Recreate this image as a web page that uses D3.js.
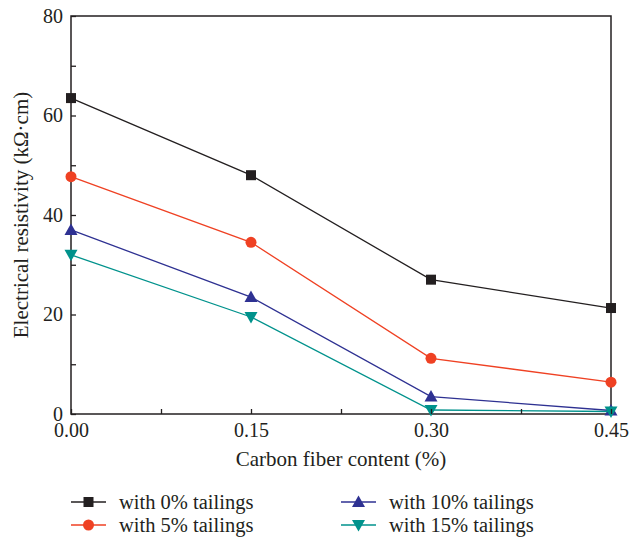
<!DOCTYPE html>
<html>
<head>
<script src="https://d3js.org/d3.v7.min.js"></script>
<style>
body { margin: 0; background: #fff; }
text { font-family: "Liberation Serif", "DejaVu Serif", serif; fill: #231f20; }
</style>
</head>
<body>
<svg class="chart" width="629" height="538"></svg>
<script>
var content = [0, 0.15, 0.30, 0.45]
var xTicks = ["0.00", "0.15", "0.30", "0.45"]
var yTicks = [0, 20, 40, 60, 80]
var tail0 = [63.5, 48, 27, 21.3]
var tail5 = [47.7, 34.5, 11.2, 6.4]
var tail10 = [37, 23.5, 3.5, 0.7]
var tail15 = [32, 19.5, 0.8, 0.5]

var series = [
  {name: "with 0% tailings", values: tail0, color: "#231f20", shape: "square"},
  {name: "with 5% tailings", values: tail5, color: "#ef4123", shape: "circle"},
  {name: "with 10% tailings", values: tail10, color: "#2e3192", shape: "up"},
  {name: "with 15% tailings", values: tail15, color: "#00928c", shape: "down"}
]

var pLeft = 71, pRight = 611, pTop = 16, pBottom = 414
var x = d3.scaleLinear().domain([0, 0.45]).range([pLeft, pRight])
var y = d3.scaleLinear().domain([0, 80]).range([pBottom, pTop])
var svg = d3.select(".chart")

function marker(g, shape, color) {
  if (shape == "square") {
    g.append("rect").attr("x", -5).attr("y", -5).attr("width", 10).attr("height", 10).attr("fill", color)
  } else if (shape == "circle") {
    g.append("circle").attr("r", 5.5).attr("fill", color)
  } else if (shape == "up") {
    g.append("path").attr("d", "M0,-6.5L6.5,5L-6.5,5Z").attr("fill", color)
  } else {
    g.append("path").attr("d", "M0,6.5L6.5,-5L-6.5,-5Z").attr("fill", color)
  }
}

// frame
svg.append("rect").attr("x", pLeft).attr("y", pTop).attr("width", pRight - pLeft).attr("height", pBottom - pTop)
  .attr("fill", "none").attr("stroke", "#231f20").attr("stroke-width", 1.5)

// lines + markers
var line = d3.line().x(function(d, i) { return x(content[i]) }).y(function(d) { return y(d) })
series.forEach(function(s) {
  svg.append("path").attr("d", line(s.values)).attr("fill", "none").attr("stroke", s.color).attr("stroke-width", 1.3)
  s.values.forEach(function(v, i) {
    var g = svg.append("g").attr("transform", "translate(" + x(content[i]) + "," + y(v) + ")")
    marker(g, s.shape, s.color)
  })
})

// axes
var yAxis = svg.append("g").attr("transform", "translate(" + pLeft + ",0)")
  .call(d3.axisLeft(y).tickValues(d3.range(0, 81, 10)).tickSize(-5).tickPadding(8)
    .tickFormat(function(d) { return yTicks.indexOf(d) >= 0 ? d : "" }))
var xAxis = svg.append("g").attr("transform", "translate(0," + pBottom + ")")
  .call(d3.axisBottom(x).tickValues(d3.range(0, 0.451, 0.075)).tickSize(-5).tickPadding(9)
    .tickFormat(function(d, i) { return i % 2 == 0 ? xTicks[i / 2] : "" }))
svg.selectAll(".domain").remove()
svg.selectAll(".tick line").attr("stroke", "#231f20").attr("stroke-width", 1.3)
svg.selectAll(".tick text").style("font-family", "Liberation Serif").style("font-size", "20px").attr("fill", "#231f20")
yAxis.selectAll(".tick text").attr("dy", "0.3em")

// axis titles
svg.append("text").attr("x", (pLeft + pRight) / 2).attr("y", 466).attr("text-anchor", "middle")
  .style("font-size", "21px").text("Carbon fiber content (%)")
svg.append("text").attr("transform", "translate(28," + (pTop + pBottom) / 2 + ") rotate(-90)")
  .attr("text-anchor", "middle").style("font-size", "21px").text("Electrical resistivity (k\u03A9\u00B7cm)")

// legend
var legendPos = [[71, 502], [71, 525], [341, 502], [341, 525]]
series.forEach(function(s, i) {
  var p = legendPos[i]
  var g = svg.append("g").attr("transform", "translate(" + p[0] + "," + p[1] + ")")
  g.append("line").attr("x1", 0).attr("x2", 35).attr("stroke", s.color).attr("stroke-width", 1.3)
  var m = g.append("g").attr("transform", "translate(17.5,0)")
  marker(m, s.shape, s.color)
  g.append("text").attr("x", 48).attr("dy", "0.35em").style("font-size", "20.5px").text(s.name)
})
</script>
</body>
</html>
